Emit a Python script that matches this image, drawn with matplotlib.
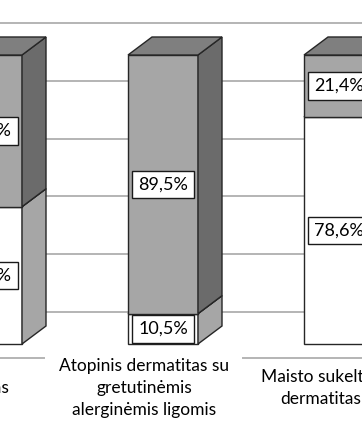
import matplotlib
matplotlib.use("Agg")
import matplotlib.pyplot as plt
from matplotlib.patches import Polygon
import numpy as np

plt.rcParams['font.family'] = ['Lato', 'DejaVu Sans']

# data
categories = ["Atopinis\ndermatitas\nvaikams",
              "Atopinis dermatitas su\ngretutinėmis\nalerginėmis ligomis",
              "Maisto sukeltas\ndermatitas"]
lower_vals = [47.5, 10.5, 78.6]   # white part
upper_vals = [52.5, 89.5, 21.4]   # gray part
lower_labels = ["47,5%", "10,5%", "78,6%"]
upper_labels = ["52,5%", "89,5%", "21,4%"]

W, H = 362, 428
fig = plt.figure(figsize=(W / 100, H / 100), dpi=100)
ax = fig.add_axes([0, 0, 1, 1])

# pixel geometry of the original (bar 2 centre at px 163, 176 px per category,
# 0% at row 344, 100% at row 55)
px_per_cat = 176.0
px_per_pct = 2.89
x_left = 1 + (0 - 163) / px_per_cat
x_right = 1 + (W - 163) / px_per_cat
ax.set_xlim(x_left, x_right)
ax.set_ylim(-(H - 344) / px_per_pct, 344 / px_per_pct)
ax.axis('off')

bw = 70 / px_per_cat               # front width
ddx = 24 / px_per_cat              # bar depth
ddy = 18 / px_per_pct
wall_dy = 32 / px_per_pct          # back wall offset
floor_dx = -18.7 / px_per_cat      # front floor offset
floor_dy = -14 / px_per_pct

edge = '#262626'
grid_c = '#b4b4b4'

# back wall gridlines
for g in np.arange(0, 101, 20):
    ax.axhline(g + wall_dy, color=grid_c, lw=1.4, zorder=0)

# front edge of floor
ax.axhline(floor_dy, xmin=0, xmax=44 / W, color=grid_c, lw=1.4, zorder=0)
ax.axhline(floor_dy, xmin=243 / W, xmax=1, color=grid_c, lw=1.4, zorder=0)


def box3d(x, bottom, height, front, side, top, z):
    x0, x1 = x - bw / 2, x + bw / 2
    y0, y1 = bottom, bottom + height
    ax.bar(x, height, bottom=bottom, width=bw, color=front,
           edgecolor=edge, linewidth=1, zorder=z)
    ax.add_patch(Polygon([(x1, y0), (x1 + ddx, y0 + ddy), (x1 + ddx, y1 + ddy), (x1, y1)],
                         closed=True, facecolor=side, edgecolor=edge, lw=1, zorder=z))
    ax.add_patch(Polygon([(x0, y1), (x1, y1), (x1 + ddx, y1 + ddy), (x0 + ddx, y1 + ddy)],
                         closed=True, facecolor=top, edgecolor=edge, lw=1, zorder=z))


lbl_box = dict(boxstyle='square,pad=0.32', facecolor='white', edgecolor='#1a1a1a', lw=1)

for i in range(len(categories)):
    lo = lower_vals[i]
    up = upper_vals[i]
    box3d(i, 0, lo, 'white', '#a6a6a6', '#d0d0d0', 2)
    box3d(i, lo, up, '#a6a6a6', '#6b6b6b', '#7f7f7f', 3)
    ax.text(i, lo / 2, lower_labels[i], ha='center', va='center', fontsize=13,
            color='black', bbox=lbl_box, zorder=5)
    ax.text(i, lo + up / 2, upper_labels[i], ha='center', va='center', fontsize=13,
            color='black', bbox=lbl_box, zorder=5)
    ax.text(i + floor_dx, -(388 - 344) / px_per_pct, categories[i], ha='center',
            va='center', fontsize=12.5, color='black', linespacing=1.45, zorder=5)

fig.savefig("out.png", dpi=100, facecolor='white')
